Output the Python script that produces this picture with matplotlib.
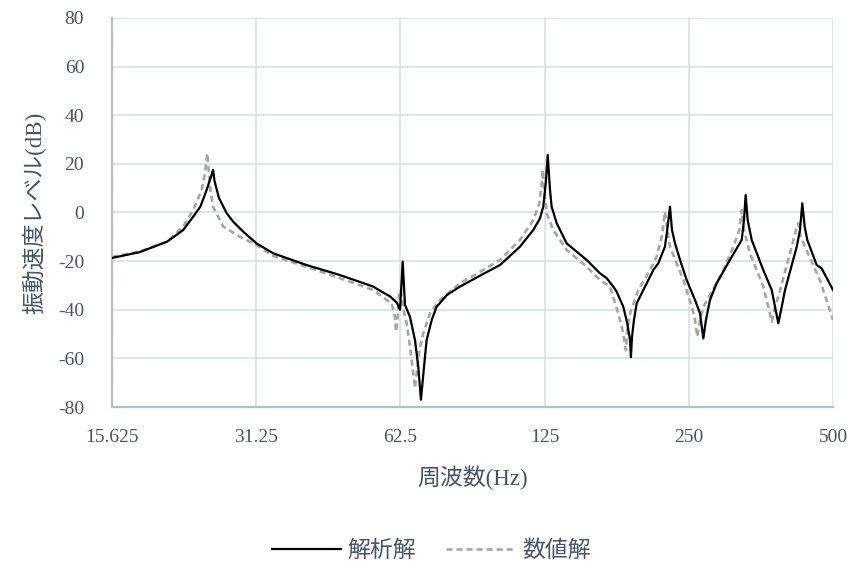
import numpy as np
import matplotlib
matplotlib.use('Agg')
import matplotlib.pyplot as plt

plt.rcParams['font.family'] = ['Liberation Serif', 'Noto Sans CJK JP', 'DejaVu Sans']
plt.rcParams['axes.unicode_minus'] = False

# 解析解 (analytical solution)
freq_a = [15.63, 17.86, 20.36, 22.01, 23.09, 23.9, 24.63, 25.15, 25.4, 25.58, 26.13,
          27.12, 27.99, 29.37, 31.3, 33.93, 39.8, 46.7, 54.9, 56.7, 59.45, 61.4, 62.4,
          63.2, 63.9, 65.45, 67.05, 68.12, 69.0, 70.02, 70.9, 72.66, 74.4, 78.08,
          83.2, 91.6, 100.9, 111.0, 118.4, 122.3, 124.2, 125.7, 126.9, 128.3, 129.3,
          132.5, 139.0, 153.0, 163.1, 168.5, 173.9, 176.8, 182.5, 186.0, 188.5,
          189.3, 190.3, 192.1, 194.6, 200.9, 210.8, 215.9, 222.9, 225.4, 228.4,
          230.6, 234.0, 239.7, 247.5, 257.6, 263.9, 268.1, 271.5, 276.8, 285.8,
          304.7, 322.4, 326.0, 328.6, 331.8, 338.3, 357.7, 372.5, 378.4, 384.5,
          390.8, 397.0, 420.0, 426.7, 431.4, 436.4, 441.9, 462.3, 473.6, 500.0]
level_a = [-18.7, -16.3, -12.0, -7.2, -1.7, 2.4, 9.3, 14.7, 17.5, 13.0, 6.0,
           -0.3, -3.8, -7.9, -12.7, -16.8, -21.6, -25.7, -30.5, -32.2, -34.5, -37.0, -40.0,
           -20.2, -38.0, -42.9, -52.5, -63.5, -77.0, -63.5, -52.5, -44.2, -38.8, -34.0,
           -30.5, -26.0, -21.6, -14.1, -7.2, -2.4, 2.4, 12.0, 23.7, 9.3, 2.4,
           -4.4, -12.7, -19.5, -25.0, -27.0, -30.5, -32.6, -38.8, -45.6, -52.5,
           -59.5, -51.1, -44.2, -37.4, -31.9, -23.7, -20.9, -14.1, -7.2, 2.4,
           -7.2, -12.7, -19.5, -27.8, -36.0, -41.5, -51.8, -44.2, -36.0, -29.1,
           -19.5, -11.3, -3.1, 7.2, -3.1, -11.3, -23.7, -31.9, -38.8, -45.6,
           -38.8, -31.9, -14.1, -7.2, 3.8, -5.8, -11.3, -21.6, -23.0, -31.9]

# 数値解 (numerical solution)
freq_n = [15.63, 17.86, 20.36, 22.01, 23.09, 24.05, 24.43, 24.7, 25.03, 25.4, 26.68,
          28.9, 31.3, 33.93, 39.8, 46.7, 54.9, 56.7, 59.94, 60.9, 61.2, 61.7, 62.18,
          62.59, 63.2, 64.42, 65.45, 66.5, 67.05, 67.6, 68.45, 69.78, 72.06, 75.6,
          83.2, 91.6, 100.9, 111.0, 118.4, 121.9, 123.3, 123.9, 124.8, 126.3, 130.3,
          139.0, 153.0, 163.1, 171.2, 178.1, 182.5, 184.0, 184.9, 186.0, 188.5,
          196.1, 207.5, 214.2, 219.5, 222.9, 225.4, 228.4, 243.6, 253.6, 257.6,
          260.4, 263.9, 268.1, 293.3, 309.7, 318.7, 322.4, 326.0, 335.4, 357.7,
          366.4, 372.5, 378.4, 384.5, 410.0, 418.5, 423.1, 428.1, 437.0, 469.7, 500.0]
level_n = [-18.3, -16.0, -12.0, -5.8, 1.0, 9.3, 16.1, 24.4, 10.6, 2.4, -5.8,
           -10.0, -13.4, -17.9, -22.3, -27.0, -31.9, -34.0, -37.4, -42.9, -49.0, -42.9, -33.3,
           -31.9, -38.8, -45.6, -55.2, -66.2, -72.2, -66.2, -56.6, -49.7, -41.5, -36.0,
           -29.1, -24.5, -19.5, -11.3, -3.1, 3.8, 12.0, 17.5, 9.3, -0.3, -7.2,
           -15.4, -22.3, -27.8, -30.5, -41.5, -49.7, -55.2, -56.6, -48.4, -41.5,
           -31.9, -23.7, -18.2, -10.0, 0.3, -7.2, -14.1, -27.8, -38.8, -44.2,
           -51.1, -44.2, -38.8, -25.0, -14.1, -7.2, 1.0, -7.2, -16.8, -30.5,
           -38.8, -44.9, -38.8, -34.6, -14.1, -7.2, -4.4, -10.0, -14.1, -27.8, -44.2]

xticks = [15.625, 31.25, 62.5, 125, 250, 500]
xtick_labels = ['15.625', '31.25', '62.5', '125', '250', '500']
yticks = list(range(-80, 81, 20))

text_color = '#44546A'
spine_color = '#B4BED0'
grid_color = '#D9DEE8'

fig = plt.figure(figsize=(8.54, 5.71), dpi=100)
ax = fig.add_axes([0.1311, 0.2872, 0.8443, 0.6813])

ax.plot(freq_a, level_a, color='black', lw=1.6, label='解析解', zorder=3)
ax.plot(freq_n, level_n, color='#A6A6A6', lw=1.9, ls=(0, (2.3, 1.5)), label='数値解', zorder=2)

ax.set_xscale('log', base=2)
ax.set_xlim(15.625, 500)
ax.set_ylim(-80, 80)
ax.set_xticks(xticks)
ax.set_xticklabels(xtick_labels)
ax.minorticks_off()
ax.set_yticks(yticks)

ax.grid(True, color=grid_color, lw=1.2)
ax.set_axisbelow(True)
for s in ['top', 'right']:
    ax.spines[s].set_visible(False)
for s in ['left', 'bottom']:
    ax.spines[s].set_color(spine_color)
    ax.spines[s].set_linewidth(1.6)

ax.tick_params(axis='both', length=0, labelsize=14, labelcolor=text_color)
ax.tick_params(axis='y', pad=20)
ax.tick_params(axis='x', pad=16)

ax.set_xlabel('周波数(Hz)', fontsize=16.5, color=text_color, labelpad=14)
ax.set_ylabel('振動速度レベル(dB)', fontsize=16.5, color=text_color, labelpad=8)

fig.legend(loc='center', bbox_to_anchor=(0.505, 0.035), ncol=2, frameon=False,
           fontsize=16.5, labelcolor=text_color, handlelength=3.0, handletextpad=0.3,
           columnspacing=1.3)

fig.savefig('out.png', dpi=100)
